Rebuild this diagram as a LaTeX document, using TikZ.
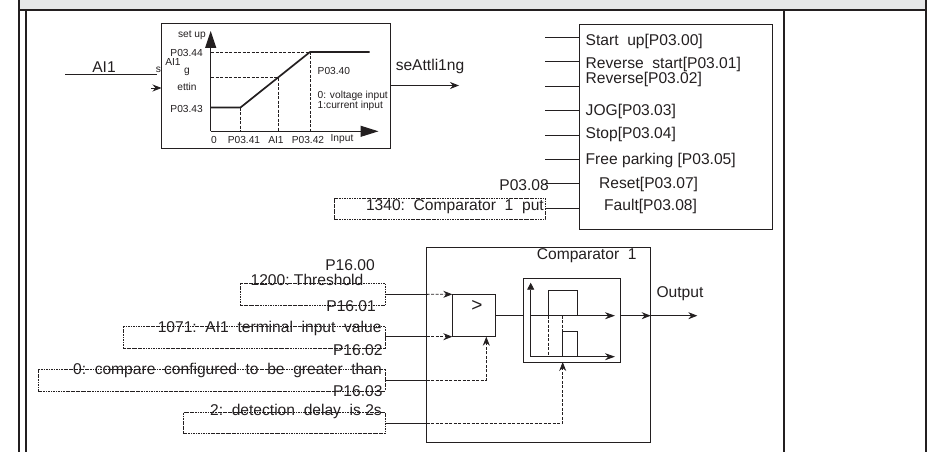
\documentclass[tikz,border=0pt]{standalone}
\usepackage{fontspec}
\setmainfont{Liberation Sans}
\usetikzlibrary{arrows.meta,calc}
\definecolor{ink}{RGB}{35,31,32}
\definecolor{band}{RGB}{230,231,232}
\tikzset{
  txt/.style={font=\fontsize{15.6}{16}\selectfont,text=ink,inner sep=0pt},
  tiny/.style={font=\fontsize{10.2}{11}\selectfont,text=ink,inner sep=0pt},
  wire/.style={ink,line width=.8pt},
  tipped/.style={wire,-{Stealth[length=9pt,width=7pt]}},
  dot/.style={ink,line width=.8pt,dash pattern=on 3pt off 1.5pt},
  blockbox/.style={draw=ink,line width=.9pt,inner sep=0pt,outer sep=0pt},
  parambox/.style={draw=ink,line width=.5pt,dash pattern=on 2.5pt off .8pt on .8pt off .8pt,inner sep=0pt,outer sep=0pt}
}
\begin{document}
\begin{tikzpicture}[x=1pt,y=-1pt]
  \useasboundingbox (0,0) rectangle (929,452);
  \fill[band] (19,0) rectangle (926,9);
  \draw[ink,line width=2pt] (19,0) -- (19,452);
  \draw[ink,line width=2pt] (25.5,10) -- (25.5,452);
  \draw[ink,line width=2pt] (19,10) -- (926,10);
  \draw[ink,line width=2pt] (783.7,10) -- (783.7,452);
  \draw[ink,line width=2pt] (926,0) -- (926,452);

  \node[blockbox,minimum width=229pt,minimum height=125pt] (chart) at (276,85.5) {};
  \draw[ink,line width=1pt,-{Triangle[length=17pt,width=11pt]}] (210.7,131.3) -- (210.7,31);
  \draw[ink,line width=1pt,-{Triangle[length=18pt,width=11pt]}] (210.7,131.3) -- (378.5,131.3);
  \draw[ink,line width=1.7pt] (211,107.5) -- (240.5,107.5) -- (310,52) -- (369.5,52);
  \draw[dot] (211,52) -- (310,52) -- (310,131);
  \draw[dot] (211,77.5) -- (278,77.5) -- (278,131);
  \draw[dot] (240.5,107.5) -- (240.5,131);
  \node[tiny,anchor=east] (setup) at (206,35.5) {set up};
  \node[tiny,anchor=east] (p44) at (203,52.5) {P03.44};
  \node[tiny,anchor=east] (p43) at (203,109) {P03.43};
  \node[tiny] (splita) at (173,62) {AI1};
  \node[tiny] (splitb) at (187,71.5) {g};
  \node[tiny] (splitc) at (187,87) {ettin};
  \node[tiny] (splitd) at (158.5,69.5) {s};
  \node[tiny,anchor=west] (p40) at (317.5,70.5) {P03.40};
  \node[tiny,anchor=west] (volt) at (317.5,96) {0: voltage input};
  \node[tiny,anchor=west] (curr) at (317.5,106) {1:current input};
  \node[tiny] (zero) at (214,139.5) {0};
  \node[tiny] (p41) at (244,139.5) {P03.41};
  \node[tiny] (axai) at (276,139.5) {AI1};
  \node[tiny] (p42) at (308,139.5) {P03.42};
  \node[tiny] (inp) at (342,139.5) {Input};

  \coordinate (ain) at (65,74.7);
  \coordinate (aend) at (157,74.7);
  \coordinate (astub) at (151,88);
  \draw[wire,line width=1.1pt] (ain) -- (aend);
  \node[txt] (ailab) at (104,67.5) {AI1};
  \draw[tipped] (astub) -- (astub -| chart.west);
  \coordinate (aout) at (459,85.5);
  \draw[tipped] (chart.east |- aout) -- (aout);
  \node[txt] (settl) at (430,66) {seAttli1ng};

  \node[blockbox,minimum width=193.7pt,minimum height=205pt] (sig) at (675.85,126.5) {};
  \foreach \n/\y in {a/37.5,b/61.5,c/86,d/110.5,e/135.5,f/159.5}{
    \coordinate (in\n) at (545,\y);
    \draw[wire] (in\n) -- (in\n -| sig.west);
  }
  \foreach \n/\y/\l in {a/41/Start~~up[P03.00],b/64.5/Reverse~~start[P03.01],c/79.5/Reverse[P03.02],d/111/JOG[P03.03],e/134.5/Stop[P03.04],f/160/Free parking [P03.05]}{
    \node[txt,anchor=west] (lab\n) at (585.5,\y) {\l};
  }
  \node[txt,anchor=west] (labg) at (599,184) {Reset[P03.07]};
  \node[txt,anchor=west] (labh) at (604,206.5) {Fault[P03.08]};
  \coordinate (ing) at (545,183.5);
  \draw[wire] (ing) -- (ing -| sig.west);
  \node[txt,anchor=east] (pzero) at (549,185) {P03.08};
  \node[parambox,minimum width=211pt,minimum height=21.5pt] (faultin) at (439.5,208.75) {};
  \node[txt,anchor=east] (faulttxt) at (544,207) {1340:~~Comparator~~1~~put};
  \draw[wire] (faultin.east) -- (faultin.east -| sig.west);

  \node[blockbox,minimum width=224pt,minimum height=195pt] (cmp) at (538.7,344.8) {};
  \node[txt] (cmptxt) at (586.7,255.5) {Comparator~~1};
  \node[blockbox,minimum width=43pt,minimum height=42.4pt] (gt) at (473.8,315.5) {};
  \node[txt,font=\fontsize{19}{19}\selectfont] (gttxt) at (477,305.5) {>};
  \node[blockbox,minimum width=97pt,minimum height=84pt] (hyst) at (571.8,320) {};
  \draw[wire,-{Triangle[length=7pt,width=7pt]}] (530.7,356.7) -- (530.7,282.7);
  \draw[wire,-{Stealth[length=10pt,width=7pt]}] (530.7,356.7) -- (615,356.7);
  \draw[wire,-{Stealth[length=10pt,width=7pt]}] (530.7,315.7) -- (615,315.7);
  \draw[wire] (548.3,315.7) -- (548.3,290) -- (577.3,290) -- (577.3,315.7);
  \draw[wire] (562.7,356.7) -- (562.7,331.7) -- (577.3,331.7) -- (577.3,356.7);
  \draw[dot] (548.3,315.7) -- (548.3,356.7);
  \draw[dot] (562.7,315.7) -- (562.7,331.7);

  \node[parambox,minimum width=145pt,minimum height=21.3pt] (pa) at (312.8,294.35) {};
  \node[parambox,minimum width=262pt,minimum height=22pt] (pb) at (254.3,337.3) {};
  \node[parambox,minimum width=347.3pt,minimum height=21.3pt] (pc) at (211.65,380.35) {};
  \node[parambox,minimum width=202.3pt,minimum height=21.4pt] (pd) at (284.15,423) {};
  \node[txt] (pazero) at (350,265) {P16.00};
  \node[txt] (patxt) at (307,280) {1200:~Threshold};
  \node[txt,anchor=east] (paone) at (376,305.7) {P16.01};
  \node[txt,anchor=east] (pbtxt) at (381.7,328) {1071:~~AI1~~terminal~~input~~value};
  \node[txt,anchor=east] (pbone) at (382.7,350) {P16.02};
  \node[txt,anchor=east] (pctxt) at (382,370) {0:~~compare~~configured~~to~~be~~greater~~than};
  \node[txt,anchor=east] (pcone) at (382.7,391) {P16.03};
  \node[txt,anchor=east] (pdtxt) at (382,411.7) {2:~~detection~~delay~~is 2s};

  \draw[wire] (pa.east) -- (pa.east -| cmp.west);
  \draw[dot,-{Stealth[length=9pt,width=7pt]}] (pa.east -| cmp.west) -- (gt.north west);
  \draw[wire] (gt.south west -| pb.east) -- (gt.south west -| cmp.west);
  \draw[dot,-{Stealth[length=9pt,width=7pt]}] (gt.south west -| cmp.west) -- (gt.south west);
  \draw[wire] (pc.east) -- (pc.east -| cmp.west);
  \draw[dot,-{Stealth[length=9pt,width=7pt]}] (pc.east -| cmp.west) -| ($(gt.south)+(12.5,0)$);
  \draw[wire] (pd.east) -- (pd.east -| cmp.west);
  \draw[dot,-{Stealth[length=9pt,width=7pt]}] (pd.east -| cmp.west) -| (562.7,362);

  \coordinate (outp) at (697.3,315.7);
  \draw[wire] (gt.east |- outp) -- (hyst.west |- outp);
  \draw[tipped] (hyst.east |- outp) -- (cmp.east |- outp);
  \draw[tipped] (cmp.east |- outp) -- (outp);
  \node[txt] (outtxt) at (680,294) {Output};
\end{tikzpicture}
\end{document}
